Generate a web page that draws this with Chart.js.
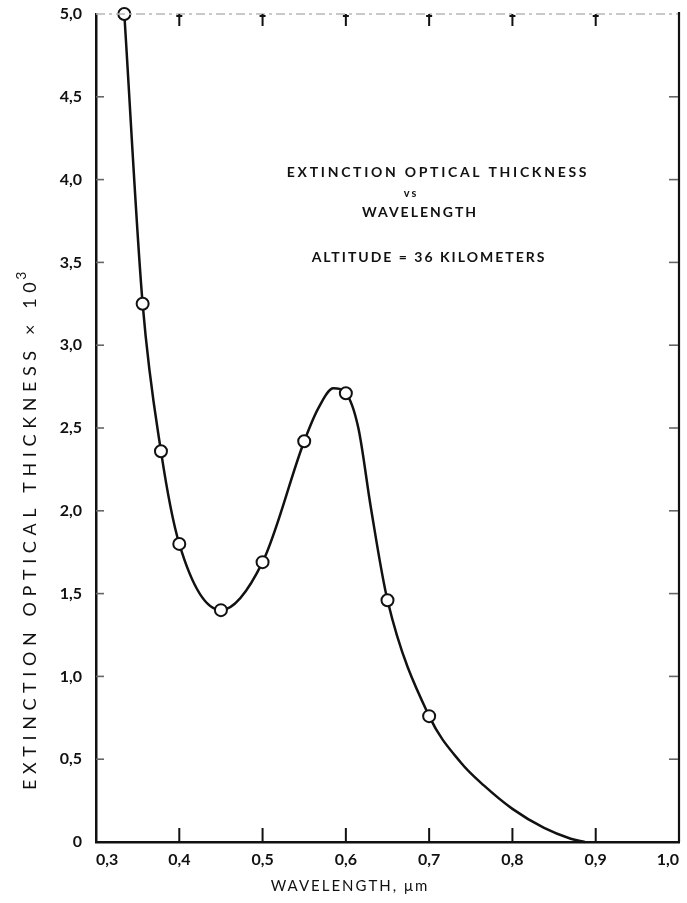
<!DOCTYPE html>
<html>
<head>
<meta charset="utf-8">
<title>Extinction optical thickness vs wavelength</title>
<script src="https://cdn.jsdelivr.net/npm/chart.js@4.4.1/dist/chart.umd.min.js"></script>
<style>
  html, body { margin: 0; padding: 0; background: #fff; }
  #wrap { width: 687px; height: 903px; position: relative; }
</style>
</head>
<body>
<div id="wrap"><canvas id="chart"></canvas></div>
<script>
// Measured points (circles), wavelength in micrometres, thickness x 10^3
const markerX = [0.334, 0.356, 0.378, 0.40, 0.45, 0.50, 0.55, 0.60, 0.65, 0.70];
const markerY = [5.00, 3.25, 2.36, 1.80, 1.40, 1.69, 2.42, 2.71, 1.46, 0.76];

// Faired curve (includes the points above)
const curveX = [0.334, 0.356, 0.378, 0.40, 0.45, 0.50, 0.55, 0.567, 0.585, 0.60, 0.615, 0.63, 0.65, 0.70, 0.738, 0.766, 0.80, 0.838, 0.87, 0.887];
const curveY = [5.00, 3.25, 2.36, 1.80, 1.40, 1.69, 2.42, 2.62, 2.74, 2.71, 2.50, 2.02, 1.46, 0.76, 0.48, 0.34, 0.20, 0.085, 0.02, 0.00];

// Tick values and labels
const xTicks = [0.3, 0.4, 0.5, 0.6, 0.7, 0.8, 0.9, 1.0];
const xTickLabels = ['0,3', '0,4', '0,5', '0,6', '0,7', '0,8', '0,9', '1,0'];
const yTicks = [0, 0.5, 1.0, 1.5, 2.0, 2.5, 3.0, 3.5, 4.0, 4.5, 5.0];
const yTickLabels = ['0', '0,5', '1,0', '1,5', '2,0', '2,5', '3,0', '3,5', '4,0', '4,5', '5,0'];

const noteLines = ['EXTINCTION OPTICAL THICKNESS', 'vs', 'WAVELENGTH', 'ALTITUDE = 36 KILOMETERS'];
const xTitle = 'WAVELENGTH, \u03bcm';
const yTitle = 'EXTINCTION OPTICAL THICKNESS \u00d7 10';
const yTitleExp = '3';

const INK = '#111';
const FONT = 'Lato, "DejaVu Sans", sans-serif';

function zip(xs, ys) {
  return xs.map((x, i) => ({ x: x, y: ys[i] }));
}

/**
 * Frame: faint top edge, right edge, inward tick marks, titles and note
 */
const framePlugin = {
  id: 'frame',
  afterDraw(chart) {
    const ctx = chart.ctx;
    const area = chart.chartArea;
    const xs = chart.scales.x;
    const ys = chart.scales.y;

    ctx.save();
    // top edge, light and broken
    ctx.strokeStyle = '#b8b8b8';
    ctx.lineWidth = 1.5;
    ctx.setLineDash([9, 4, 3, 4]);
    ctx.beginPath();
    ctx.moveTo(area.left, area.top);
    ctx.lineTo(area.right, area.top);
    ctx.stroke();
    ctx.setLineDash([]);

    // right edge
    ctx.strokeStyle = INK;
    ctx.lineWidth = 2.2;
    ctx.beginPath();
    ctx.moveTo(area.right, area.top - 2);
    ctx.lineTo(area.right, area.bottom);
    ctx.stroke();

    // x ticks: bottom pointing up, top pointing down
    xTicks.slice(1, -1).forEach(v => {
      const px = xs.getPixelForValue(v);
      ctx.strokeStyle = INK;
      ctx.lineWidth = 2;
      ctx.beginPath();
      ctx.moveTo(px, xs.top);
      ctx.lineTo(px, xs.top - 14);
      ctx.stroke();
      ctx.beginPath();
      ctx.moveTo(px, area.top);
      ctx.lineTo(px, area.top + 12);
      ctx.moveTo(px - 3, area.top + 2);
      ctx.lineTo(px + 3, area.top + 2);
      ctx.stroke();
    });

    // y ticks: left and right, pointing inward
    yTicks.slice(1, -1).forEach(v => {
      const py = ys.getPixelForValue(v);
      ctx.strokeStyle = '#666';
      ctx.lineWidth = 1.6;
      ctx.beginPath();
      ctx.moveTo(ys.right, py);
      ctx.lineTo(ys.right + 8, py);
      ctx.stroke();
      ctx.beginPath();
      ctx.moveTo(area.right - 1, py);
      ctx.lineTo(area.right - 10, py);
      ctx.stroke();
    });

    ctx.fillStyle = INK;
    ctx.textBaseline = 'middle';

    // note text
    ctx.textAlign = 'center';
    ctx.letterSpacing = '2.7px';
    ctx.font = 'bold 14px ' + FONT;
    ctx.fillText(noteLines[0], 438, 172);
    ctx.letterSpacing = '2px';
    ctx.font = 'bold 11px ' + FONT;
    ctx.fillText(noteLines[1], 411, 193);
    ctx.font = 'bold 14px ' + FONT;
    ctx.fillText(noteLines[2], 420, 212);
    ctx.fillText(noteLines[3], 429, 257);

    // x axis title
    ctx.letterSpacing = '2px';
    ctx.font = '15px ' + FONT;
    ctx.fillText(xTitle, 350, 886);

    // y axis title, rotated, with superscript exponent
    ctx.save();
    ctx.translate(30, 790);
    ctx.rotate(-Math.PI / 2);
    ctx.textAlign = 'left';
    ctx.letterSpacing = '5.6px';
    ctx.font = '18px ' + FONT;
    ctx.fillText(yTitle, 0, 0);
    const w = ctx.measureText(yTitle).width;
    ctx.font = '14px ' + FONT;
    ctx.fillText(yTitleExp, w - 3, -9);
    ctx.restore();

    ctx.restore();
  }
};

const ctx = document.getElementById('chart').getContext('2d');

new Chart(ctx, {
  type: 'scatter',
  data: {
    datasets: [
      {
        label: 'Measured',
        data: zip(markerX, markerY),
        pointRadius: 6,
        pointBackgroundColor: '#fff',
        pointBorderColor: INK,
        pointBorderWidth: 2,
        showLine: false,
        clip: false,
        order: 0
      },
      {
        label: 'Curve',
        data: zip(curveX, curveY),
        showLine: true,
        borderColor: INK,
        borderWidth: 2.5,
        pointRadius: 0,
        cubicInterpolationMode: 'monotone',
        clip: false,
        order: 1
      }
    ]
  },
  options: {
    responsive: true,
    maintainAspectRatio: false,
    animation: false,
    layout: {
      padding: { top: 14, right: 6, left: 0, bottom: 0 }
    },
    plugins: {
      legend: { display: false },
      tooltip: { enabled: false }
    },
    scales: {
      x: {
        type: 'linear',
        min: 0.3,
        max: 1.0,
        afterBuildTicks(scale) {
          scale.ticks = xTicks.map(v => ({ value: v }));
        },
        afterFit(scale) {
          scale.height = 61;
          scale.paddingLeft = 0;
          scale.paddingRight = 0;
        },
        grid: { display: false, drawTicks: false },
        border: { display: true, color: INK, width: 2.5 },
        ticks: {
          align: 'inner',
          padding: 8,
          color: INK,
          font: { family: FONT, size: 16, weight: 'bold' },
          callback: (v, i) => xTickLabels[i]
        }
      },
      y: {
        type: 'linear',
        min: 0,
        max: 5,
        afterBuildTicks(scale) {
          scale.ticks = yTicks.map(v => ({ value: v }));
        },
        afterFit(scale) {
          scale.width = 96;
          scale.paddingTop = 0;
          scale.paddingBottom = 0;
        },
        grid: { display: false, drawTicks: false },
        border: { display: true, color: INK, width: 2.5 },
        ticks: {
          padding: 14,
          color: INK,
          font: { family: FONT, size: 16, weight: 'bold' },
          callback: (v, i) => yTickLabels[i]
        }
      }
    }
  },
  plugins: [framePlugin]
});
</script>
</body>
</html>
